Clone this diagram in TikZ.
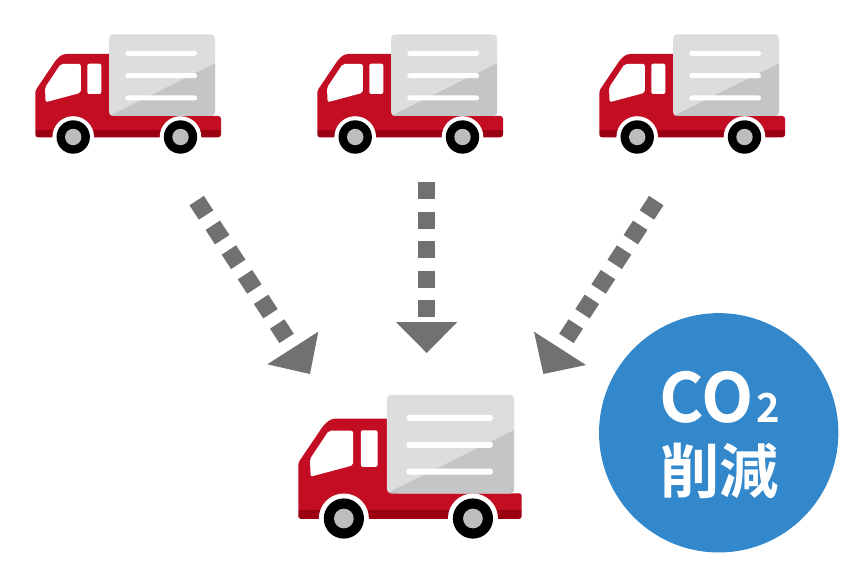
\documentclass[tikz,border=0pt]{standalone}
\usepackage{fontspec}
\newfontfamily\cjkb[Scale=1]{Noto Sans CJK JP Bold}
\definecolor{truckred}{HTML}{C30D23}
\definecolor{truckdark}{HTML}{9B0012}
\definecolor{boxlight}{HTML}{DCDDDD}
\definecolor{boxdark}{HTML}{C4C5C6}
\definecolor{arrowgray}{HTML}{727171}
\definecolor{hubgray}{HTML}{BDBDBD}
\definecolor{badge}{HTML}{3388CB}
\tikzset{
  dots/.style={draw=arrowgray,line width=12.9pt,dash pattern=on 12.9pt off 9.2pt},
  head/.style={fill=arrowgray,draw=none},
}
\newcommand{\drawtruck}[3]{%
\begin{scope}[shift={(#1,#2)},scale=#3]
  % body
  \begin{scope}
    \clip[rounded corners=2pt] (35.3,137.3) -- (35.3,90.7) -- (56,60) -- (60,56) -- (64,54) -- (115,54) -- (115,116) -- (221,116) -- (221,137.3) -- cycle;
    \fill[truckred] (30,50) rectangle (225,130);
    \fill[truckdark] (30,130) rectangle (225,140);
  \end{scope}
  % cargo box
  \begin{scope}
    \clip[rounded corners=3pt] (109,116) -- (109,34.3) -- (215,34.3) -- (215,116) -- cycle;
    \fill[boxlight] (105,30) rectangle (220,120);
    \fill[boxdark] (109,116) -- (215,63.3) -- (215,116) -- cycle;
  \end{scope}
  \foreach \yy in {53.3,75.7,98}{
    \fill[white,rounded corners=1.8pt] (125.3,\yy-2.5) rectangle (197,\yy+2.5);
  }
  % windows
  \fill[white,rounded corners=1.5pt] (45.6,102.2) -- (45,87.5) -- (60.7,64) -- (80.8,64) -- (80.8,92.8) -- cycle;
  \fill[white,rounded corners=1.5pt] (87.3,63.7) rectangle (101.3,94);
  % wheels
  \foreach \xx in {73.2,180.5}{
    \fill[white] (\xx,137) circle (20.8);
    \fill[black] (\xx,137) circle (16.7);
    \fill[hubgray] (\xx,137) circle (8.2);
  }
\end{scope}}
\begin{document}
\begin{tikzpicture}[x=0.75pt,y=-0.75pt]
\useasboundingbox (0,0) rectangle (860,574);
\fill[white] (0,0) rectangle (860,574);
\drawtruck{0}{0}{1}
\drawtruck{282}{0}{1}
\drawtruck{564}{0}{1}
\drawtruck{255.8}{353.7}{1.203}
% arrows
\coordinate (a1s) at (196.7,200.6);
\coordinate (a1e) at (286.6,338.4);
\coordinate (a2s) at (426.7,182.3);
\coordinate (a2e) at (426.7,318);
\coordinate (a3s) at (656.3,200.6);
\coordinate (a3e) at (566.4,338.4);
\draw[dots] (a1s) -- (a1e);
\draw[dots] (a2s) -- (a2e);
\draw[dots] (a3s) -- (a3e);
\fill[head] (318.3,331.7) -- (267.3,364.3) -- (310,374) -- cycle;
\fill[head] (396,322) -- (457.3,322) -- (426.7,353) -- cycle;
\fill[head] (534,331.7) -- (543.3,374) -- (586,365) -- cycle;
% badge
\node[circle,fill=badge,minimum size=179.5pt,inner sep=0pt] (badge) at (718.7,432.8) {};
\node[text=white,inner sep=0pt,anchor=center] (co) at (719.5,397) {\cjkb\fontsize{51pt}{51pt}\selectfont CO\hspace{2pt}{\fontsize{30pt}{30pt}\selectfont 2}};
\node[text=white,inner sep=0pt,anchor=center] (sakugen) at (719.5,471) {\cjkb\fontsize{44.5pt}{50pt}\selectfont 削減};
\end{tikzpicture}
\end{document}
